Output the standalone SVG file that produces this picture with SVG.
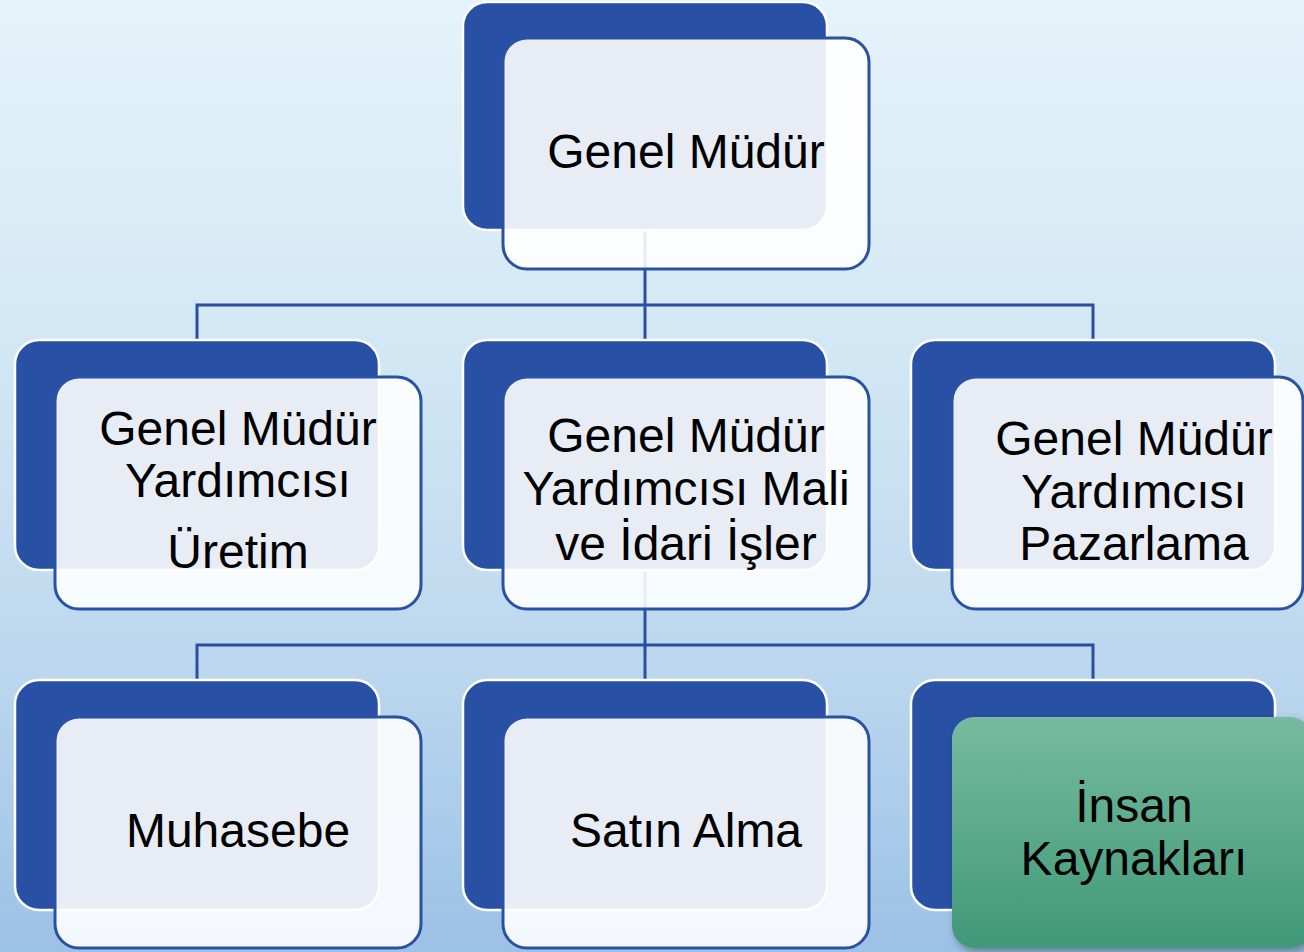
<svg xmlns="http://www.w3.org/2000/svg" width="1304" height="952" viewBox="0 0 1304 952">
<defs>
<linearGradient id="bg" x1="0" y1="0" x2="0" y2="1">
<stop offset="0" stop-color="#e5f3fa"/>
<stop offset="0.35" stop-color="#d3e8f4"/>
<stop offset="0.7" stop-color="#bcd7ee"/>
<stop offset="1" stop-color="#9cc1e6"/>
</linearGradient>
<linearGradient id="green" x1="0" y1="0" x2="0" y2="1">
<stop offset="0" stop-color="#77ba9f"/>
<stop offset="1" stop-color="#3f9977"/>
</linearGradient>
<filter id="shadow" x="-10%" y="-10%" width="130%" height="130%">
<feDropShadow dx="3" dy="4" stdDeviation="4" flood-color="#000" flood-opacity="0.35"/>
</filter>
<style>
.back{fill:#2850a5;stroke:#ffffff;stroke-width:2.5}
.front{fill:#ffffff;fill-opacity:0.89;stroke:#2a52a3;stroke-width:3}
.conn{fill:none;stroke:#2a4fa0;stroke-width:3}
.lbl{font-family:"Liberation Sans",Arial,sans-serif;font-size:48px;fill:#000;text-anchor:middle}
</style>
</defs>
<rect x="0" y="0" width="1304" height="952" fill="url(#bg)"/>
<g id="connectors">
<path class="conn" d="M645 230 V305 M197 340 V305 H1093 V340 M645 305 V340"/>
<path class="conn" d="M645 570 V645 M197 680 V645 H1093 V680 M645 645 V680"/>
</g>
<g id="genel-mudur">
<rect class="back" x="463" y="2" width="364" height="228" rx="24"/>
<rect class="front" x="503" y="38" width="366" height="231" rx="24"/>
<text class="lbl" x="686" y="168">Genel Müdür</text>
</g>
<g id="gmy-uretim">
<rect class="back" x="15" y="340" width="364" height="230" rx="24"/>
<rect class="front" x="55" y="377" width="366" height="232" rx="24"/>
<text class="lbl" x="238" y="445">Genel Müdür</text>
<text class="lbl" x="238" y="497">Yardımcısı</text>
<text class="lbl" x="238" y="568">Üretim</text>
</g>
<g id="gmy-mali">
<rect class="back" x="463" y="340" width="364" height="230" rx="24"/>
<rect class="front" x="503" y="377" width="366" height="232" rx="24"/>
<text class="lbl" x="686" y="452">Genel Müdür</text>
<text class="lbl" x="686" y="505">Yardımcısı Mali</text>
<text class="lbl" x="686" y="560">ve İdari İşler</text>
</g>
<g id="gmy-pazarlama">
<rect class="back" x="911" y="340" width="364" height="230" rx="24"/>
<rect class="front" x="952" y="377" width="351" height="232" rx="24"/>
<text class="lbl" x="1134" y="455">Genel Müdür</text>
<text class="lbl" x="1134" y="508">Yardımcısı</text>
<text class="lbl" x="1134" y="560">Pazarlama</text>
</g>
<g id="muhasebe">
<rect class="back" x="15" y="680" width="364" height="230" rx="24"/>
<rect class="front" x="55" y="717" width="366" height="231" rx="24"/>
<text class="lbl" x="238" y="847">Muhasebe</text>
</g>
<g id="satin-alma">
<rect class="back" x="463" y="680" width="364" height="230" rx="24"/>
<rect class="front" x="503" y="717" width="366" height="231" rx="24"/>
<text class="lbl" x="686" y="847">Satın Alma</text>
</g>
<g id="insan-kaynaklari">
<rect class="back" x="911" y="680" width="364" height="230" rx="24"/>
<rect x="952" y="717" width="360" height="231" rx="22" fill="url(#green)" filter="url(#shadow)"/>
<text class="lbl" x="1134" y="822">İnsan</text>
<text class="lbl" x="1134" y="875">Kaynakları</text>
</g>
</svg>
